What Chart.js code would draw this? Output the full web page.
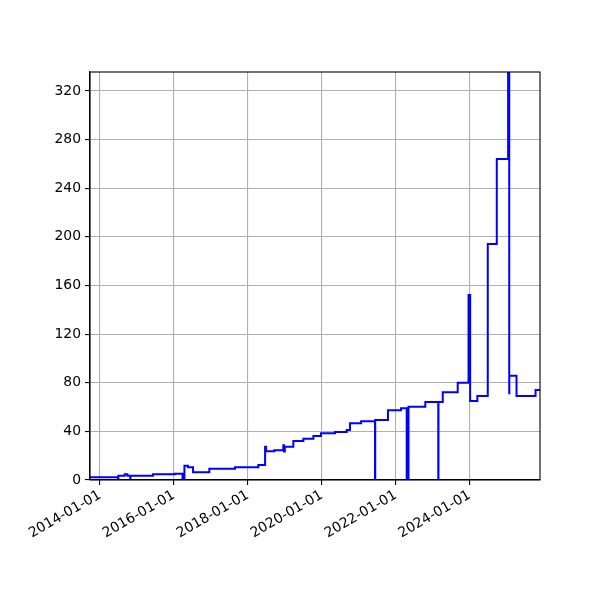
<!DOCTYPE html>
<html>
<head>
<meta charset="utf-8">
<script src="https://cdn.jsdelivr.net/npm/chart.js@4"></script>
<style>
  html, body { margin: 0; padding: 0; background: #fff; }
  #wrap { width: 600px; height: 600px; }
</style>
</head>
<body>
<div id="wrap"><canvas id="c" width="600" height="600"></canvas></div>
<script>
// ---- data (change dates and the value that holds from that date on) ----
const dates = [
  '2013-09-24','2014-06-28','2014-07-01','2014-09-02','2014-09-28','2014-10-27','2014-10-29',
  '2015-06-09','2016-01-09','2016-03-26','2016-04-14','2016-05-19','2016-07-08','2016-12-16',
  '2017-08-27','2018-04-14','2018-06-20','2018-06-30','2018-09-19','2018-12-17','2018-12-24',
  '2019-01-01','2019-03-26','2019-07-03','2019-10-10','2019-12-24','2020-05-11','2020-09-03',
  '2020-10-06','2021-01-23','2021-06-10','2021-06-12','2021-10-16','2022-02-22','2022-04-19',
  '2022-04-21','2022-05-05','2022-05-07','2022-10-20','2023-02-25','2023-02-27','2023-04-10',
  '2023-09-05','2023-12-21','2024-01-06','2024-03-17','2024-06-28','2024-09-25','2025-01-15',
  '2025-01-26','2025-01-27','2025-04-08','2025-10-13','2025-11-26'
];
const values = [
  2.2, 0, 3.5, 4.7, 3.5, 0, 3.5,
  4.7, 5.2, 0, 11.8, 10.4, 6.3, 9.3,
  10.4, 12.3, 27.4, 23.6, 24.4, 28.5, 23.5,
  27.4, 32, 34, 36.2, 38.4, 39.5, 41.1,
  46.6, 48.3, 0, 49.4, 57.3, 59, 0,
  59, 0, 60.3, 64.2, 0, 64.2, 72.2,
  80, 152.2, 65, 69.1, 194.1, 264, 335.6,
  71.3, 85.8, 69.1, 74, 74
];
const xTickDates = ['2014-01-01','2016-01-01','2018-01-01','2020-01-01','2022-01-01','2024-01-01'];
const yTicks = [0, 40, 80, 120, 160, 200, 240, 280, 320];
const yMax = 335.6;

// ---- helpers ----
function toMs(s) { const p = s.split('-').map(Number); return Date.UTC(p[0], p[1] - 1, p[2]); }
function fmt(ms) {
  const d = new Date(ms);
  const mm = String(d.getUTCMonth() + 1).padStart(2, '0');
  const dd = String(d.getUTCDate()).padStart(2, '0');
  return d.getUTCFullYear() + '-' + mm + '-' + dd;
}
const points = dates.map((d, i) => ({ x: toMs(d), y: values[i] }));

const FONT = { family: 'DejaVu Sans', size: 13.9 };

const framePlugin = {
  id: 'frame',
  afterDraw(chart) {
    const a = chart.chartArea, ctx = chart.ctx;
    ctx.save();
    ctx.strokeStyle = '#000';
    ctx.lineWidth = 1.1;
    ctx.strokeRect(a.left, a.top, a.right - a.left, a.bottom - a.top);
    ctx.restore();
  }
};

new Chart(document.getElementById('c'), {
  type: 'line',
  data: {
    datasets: [{
      data: points,
      borderColor: '#0000ff',
      borderWidth: 2,
      pointRadius: 0,
      stepped: true,
      fill: false,
      tension: 0
    }]
  },
  options: {
    responsive: false,
    animation: false,
    devicePixelRatio: 1,
    layout: { padding: { left: 0, top: 72, right: 60, bottom: 0 } },
    plugins: { legend: { display: false }, tooltip: { enabled: false } },
    scales: {
      x: {
        type: 'linear',
        min: toMs(dates[0]),
        max: toMs(dates[dates.length - 1]),
        afterBuildTicks(scale) { scale.ticks = xTickDates.map(d => ({ value: toMs(d) })); },
        afterFit(scale) { scale.height = 120; },
        ticks: {
          callback: (v) => fmt(v),
          minRotation: 30, maxRotation: 30,
          autoSkip: false,
          font: FONT, color: '#000', padding: 2
        },
        grid: { color: '#b0b0b0', lineWidth: 1.1, tickColor: '#000', tickLength: 5, tickWidth: 1.1 },
        border: { color: '#000', width: 1.1 }
      },
      y: {
        type: 'linear',
        min: 0,
        max: yMax,
        afterBuildTicks(scale) { scale.ticks = yTicks.map(v => ({ value: v })); },
        afterFit(scale) { scale.width = 90; },
        ticks: { font: FONT, color: '#000', padding: 4, callback: (v) => String(v) },
        grid: { color: '#b0b0b0', lineWidth: 1.1, tickColor: '#000', tickLength: 5, tickWidth: 1.1 },
        border: { color: '#000', width: 1.1 }
      }
    }
  },
  plugins: [framePlugin]
});
</script>
</body>
</html>
